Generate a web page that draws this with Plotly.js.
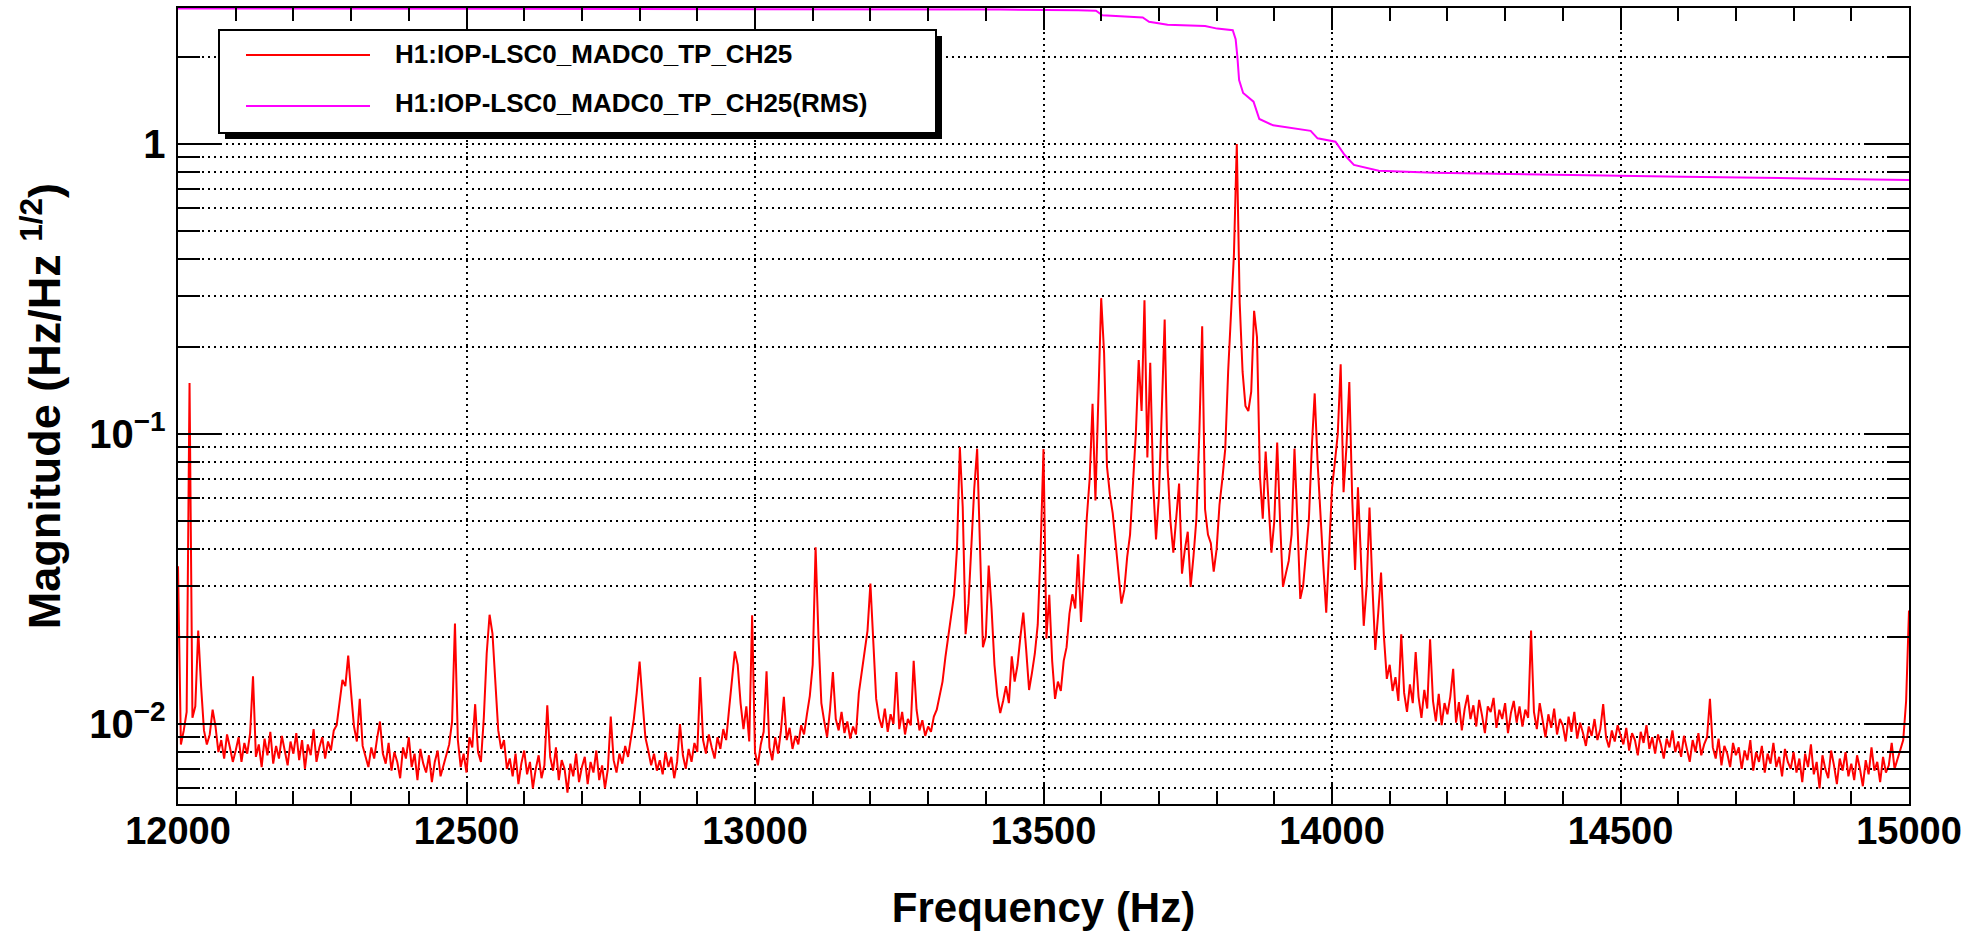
<!DOCTYPE html>
<html>
<head>
<meta charset="utf-8">
<script src="https://cdn.plot.ly/plotly-3.0.1.min.js"></script>
<style>html,body{margin:0;padding:0;background:#fff;}</style>
</head>
<body>
<div id="chart" style="width:1974px;height:938px;"></div>
<script>
// ---- data ----
const startFreq = 12000;   // Hz, first sample of the spectrum
const freqStep = 5;        // Hz between spectrum samples
const magnitude = [
  .035,.0085,.0095,.011,.15,.0105,.0115,.021,.0135,.0095,.0085,.0092,.0112,.0098,.0080,.0088,.0076,.0092,.0083,.0074,
  .0081,.0090,.0074,.0086,.0079,.0093,.0146,.0077,.0085,.0071,.0089,.0078,.0094,.0073,.0084,.0076,.0091,.0080,.0072,.0087,
  .0079,.0093,.0075,.0088,.0070,.0085,.0078,.0096,.0074,.0083,.0090,.0076,.0087,.0081,.0095,.0099,.0118,.0142,.0135,.0172,
  .0128,.0098,.0087,.0122,.0084,.0078,.0071,.0083,.0076,.0089,.0102,.0079,.0073,.0086,.0069,.0080,.0074,.0065,.0083,.0076,
  .0090,.0071,.0079,.0064,.0082,.0073,.0068,.0078,.0063,.0074,.0081,.0066,.0072,.0079,.0085,.0102,.0222,.0088,.0071,.0079,
  .0068,.0090,.0083,.0117,.0080,.0074,.0105,.0175,.0238,.0205,.0140,.0095,.0082,.0088,.0070,.0076,.0066,.0079,.0062,.0073,
  .0081,.0067,.0074,.0060,.0070,.0078,.0065,.0072,.0116,.0077,.0069,.0083,.0064,.0075,.0070,.0058,.0073,.0066,.0079,.0063,
  .0071,.0077,.0062,.0074,.0068,.0081,.0064,.0072,.0060,.0070,.0106,.0075,.0068,.0079,.0073,.0084,.0077,.0090,.0104,.0128,
  .0164,.0120,.0090,.0081,.0072,.0079,.0069,.0075,.0067,.0080,.0071,.0077,.0065,.0074,.0100,.0078,.0070,.0082,.0074,.0086,
  .0080,.0145,.0088,.0079,.0092,.0083,.0076,.0090,.0082,.0096,.0088,.0112,.0140,.0178,.0160,.0118,.0096,.0115,.0087,.0237,
  .0080,.0072,.0085,.0094,.0152,.0083,.0075,.0090,.0079,.0095,.0124,.0088,.0097,.0082,.0091,.0085,.0099,.0092,.0108,.0125,
  .0160,.0407,.0200,.0118,.0102,.0090,.0112,.0151,.0104,.0095,.0110,.0093,.0102,.0089,.0098,.0092,.0128,.0150,.0180,.0210,
  .0305,.0190,.0122,.0105,.0097,.0113,.0094,.0108,.0100,.0151,.0096,.0110,.0092,.0104,.0099,.0165,.0112,.0095,.0103,.0091,
  .0098,.0094,.0106,.0112,.0125,.0140,.0170,.0200,.0235,.0279,.0400,.0902,.0560,.0204,.0260,.0420,.0650,.0890,.0380,.0184,
  .0200,.0352,.0250,.0160,.0125,.0109,.0120,.0135,.0118,.0171,.0140,.0160,.0200,.0242,.0180,.0131,.0150,.0175,.0220,.0400,
  .0887,.0197,.0279,.0165,.0122,.0140,.0130,.0165,.0184,.0240,.0280,.0250,.0385,.0225,.0330,.0513,.0700,.1270,.0590,.1480,
  .2940,.1900,.0773,.0620,.0532,.0420,.0330,.0260,.0290,.0376,.0450,.0650,.1000,.1800,.1200,.2890,.0830,.1760,.0675,.0433,
  .0610,.1200,.2480,.0770,.0500,.0390,.0500,.0675,.0330,.0400,.0460,.0297,.0380,.0510,.1000,.2350,.0550,.0450,.0420,.0335,
  .0400,.0570,.0700,.0890,.1640,.2500,.4140,1.000,.2840,.1640,.1250,.1200,.1400,.2660,.2160,.0720,.0510,.0870,.0600,.0390,
  .0500,.0935,.0500,.0297,.0330,.0365,.0450,.0890,.0500,.0270,.0300,.0380,.0510,.0900,.1380,.0800,.0510,.0350,.0242,.0400,
  .0650,.0800,.1000,.1740,.0630,.0900,.1510,.0600,.0340,.0655,.0400,.0218,.0300,.0558,.0300,.0180,.0240,.0333,.0200,.0143,
  .0160,.0130,.0145,.0120,.0204,.0128,.0110,.0137,.0118,.0177,.0124,.0105,.0131,.0113,.0196,.0120,.0102,.0127,.0099,.0118,
  .0108,.0124,.0155,.0101,.0119,.0095,.0113,.0126,.0104,.0116,.0098,.0121,.0107,.0093,.0115,.0110,.0123,.0097,.0112,.0104,
  .0118,.0093,.0109,.0120,.0101,.0115,.0098,.0112,.0105,.0210,.0110,.0096,.0118,.0102,.0090,.0108,.0097,.0113,.0092,.0104,
  .0099,.0087,.0106,.0094,.0110,.0089,.0101,.0093,.0084,.0098,.0091,.0104,.0088,.0096,.0117,.0090,.0083,.0095,.0087,.0099,
  .0092,.0085,.0097,.0081,.0093,.0088,.0078,.0094,.0086,.0099,.0082,.0090,.0079,.0092,.0085,.0076,.0089,.0083,.0095,.0080,
  .0087,.0077,.0091,.0082,.0074,.0088,.0080,.0093,.0078,.0085,.0090,.0122,.0083,.0076,.0089,.0072,.0084,.0079,.0071,.0086,
  .0078,.0083,.0070,.0081,.0075,.0088,.0069,.0080,.0074,.0084,.0068,.0079,.0073,.0086,.0071,.0077,.0066,.0082,.0074,.0070,
  .0080,.0068,.0076,.0063,.0079,.0071,.0085,.0067,.0074,.0060,.0078,.0070,.0065,.0081,.0072,.0062,.0076,.0069,.0080,.0066,
  .0073,.0064,.0078,.0070,.0061,.0075,.0067,.0083,.0069,.0074,.0063,.0077,.0068,.0072,.0086,.0070,.0076,.0082,.0088,.0120,
  .0246
];
const rmsFreq = [12000, 12500, 13000, 13300, 13424, 13560, 13591, 13602, 13672, 13683, 13715, 13780, 13801, 13828,
                 13833, 13836, 13839, 13846, 13864, 13874, 13898, 13963, 13975, 14006, 14022, 14038, 14081, 14177,
                 14392, 14607, 14821, 15000];
const rmsMag  = [2.935, 2.93, 2.925, 2.915, 2.91, 2.89, 2.88, 2.78, 2.73, 2.64, 2.58, 2.55, 2.50, 2.47,
                 2.30, 2.00, 1.66, 1.50, 1.40, 1.22, 1.16, 1.11, 1.046, 1.018, 0.916, 0.847, 0.809, 0.796,
                 0.782, 0.771, 0.761, 0.751];
const seriesNames = ['H1:IOP-LSC0_MADC0_TP_CH25', 'H1:IOP-LSC0_MADC0_TP_CH25(RMS)'];
const seriesColors = ['#ff0000', '#ff00ff'];
const xTitle = 'Frequency (Hz)';
const yTitle = 'Magnitude (Hz/Hz <sup>1/2</sup>)';

// ---- chart ----
const FONT = 'Liberation Sans, Arial, Helvetica, sans-serif';
const traces = [
  { type: 'scatter', mode: 'lines', name: seriesNames[0], x0: startFreq, dx: freqStep, y: magnitude,
    line: { color: seriesColors[0], width: 2 }, showlegend: false },
  { type: 'scatter', mode: 'lines', name: seriesNames[1], x: rmsFreq, y: rmsMag,
    line: { color: seriesColors[1], width: 2 }, showlegend: false }
];

// legend box drawn in the ROOT style (box + drop shadow)
const L = 178, R = 1909, T = 8, B = 804;
const px = v => (v - L) / (R - L);
const py = v => (B - v) / (B - T);
const shapes = [
  { type: 'rect', xref: 'paper', yref: 'paper', x0: px(225), x1: px(942), y0: py(139), y1: py(36),
    fillcolor: '#000', line: { width: 0 }, layer: 'above' },
  { type: 'rect', xref: 'paper', yref: 'paper', x0: px(219), x1: px(936), y0: py(133), y1: py(30),
    fillcolor: '#fff', line: { color: '#000', width: 2 }, layer: 'above' },
  { type: 'line', xref: 'paper', yref: 'paper', x0: px(246), x1: px(370), y0: py(55), y1: py(55),
    line: { color: seriesColors[0], width: 2 }, layer: 'above' },
  { type: 'line', xref: 'paper', yref: 'paper', x0: px(246), x1: px(370), y0: py(106), y1: py(106),
    line: { color: seriesColors[1], width: 2 }, layer: 'above' }
];
const annotations = [
  { xref: 'paper', yref: 'paper', x: px(393), y: py(54), xanchor: 'left', yanchor: 'middle', showarrow: false,
    text: seriesNames[0], font: { family: FONT, size: 26, weight: 'bold', color: '#000' } },
  { xref: 'paper', yref: 'paper', x: px(393), y: py(103), xanchor: 'left', yanchor: 'middle', showarrow: false,
    text: seriesNames[1], font: { family: FONT, size: 26, weight: 'bold', color: '#000' } }
];

const GRID_DASH = '2px,4px';
const layout = {
  width: 1974, height: 938,
  margin: { l: L, r: 1974 - R, t: T, b: 938 - B, pad: 0 },
  paper_bgcolor: '#fff', plot_bgcolor: '#fff',
  showlegend: false,
  xaxis: {
    range: [12000, 15000], tick0: 12000, dtick: 500, tickformat: 'd',
    ticks: 'inside', ticklen: 22, tickwidth: 2, tickcolor: '#000',
    showline: true, linecolor: '#000', linewidth: 2, mirror: 'allticks',
    showgrid: true, gridcolor: '#000', gridwidth: 2, griddash: GRID_DASH,
    zeroline: false,
    minor: { dtick: 100, ticks: 'inside', ticklen: 13, tickwidth: 2, tickcolor: '#000', showgrid: false },
    tickfont: { family: FONT, size: 38, weight: 'bold', color: '#000' },
    ticklabelstandoff: -8,
    title: { text: xTitle, font: { family: FONT, size: 42, weight: 'bold', color: '#000' }, standoff: 42 }
  },
  yaxis: {
    type: 'log', range: [-2.276, 0.469], dtick: 1, exponentformat: 'power',
    ticks: 'inside', ticklen: 44, tickwidth: 2, tickcolor: '#000',
    showline: true, linecolor: '#000', linewidth: 2, mirror: 'allticks',
    showgrid: true, gridcolor: '#000', gridwidth: 2, griddash: GRID_DASH,
    zeroline: false,
    minor: { dtick: 'D1', ticks: 'inside', ticklen: 22, tickwidth: 2, tickcolor: '#000',
             showgrid: true, gridcolor: '#000', gridwidth: 2, griddash: GRID_DASH },
    tickfont: { family: FONT, size: 32, weight: 'bold', color: '#000' },
    ticklabelstandoff: 4,
    title: { text: yTitle, font: { family: FONT, size: 45, weight: 'bold', color: '#000' }, standoff: 14 }
  },
  shapes: shapes,
  annotations: annotations
};

Plotly.newPlot('chart', traces, layout, { displayModeBar: false, staticPlot: true });
</script>
</body>
</html>
